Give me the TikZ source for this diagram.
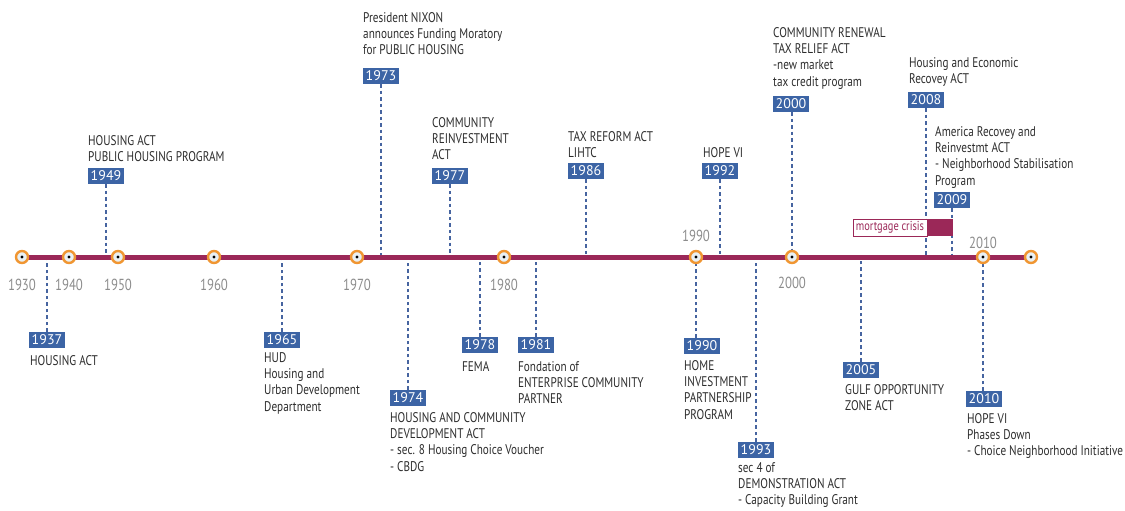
\documentclass[tikz,border=0pt]{standalone}
\usepackage{fontspec}
\setmainfont{PT Sans}
\newfontfamily\cond[FakeStretch=0.8]{PT Sans}
\usetikzlibrary{backgrounds}
\definecolor{boxblue}{RGB}{60,100,165}
\definecolor{dashblue}{RGB}{70,100,160}
\definecolor{maroon}{RGB}{155,40,88}
\definecolor{ringorange}{RGB}{240,150,50}
\definecolor{innerfill}{RGB}{232,240,244}
\definecolor{txtgray}{RGB}{45,45,45}
\definecolor{yeargray}{RGB}{140,140,140}
\begin{document}
\begin{tikzpicture}[x=1pt,y=-1pt,
  evbox/.style={fill=boxblue, text=white, font=\fontsize{14}{14}\selectfont, minimum width=36pt, minimum height=16pt, inner sep=0pt},
  evtext/.style={font=\cond\fontsize{14}{16.3}\selectfont, text=txtgray, align=left, inner sep=0pt, anchor=north west},
  tick/.style={circle, draw=ringorange, line width=2.4pt, fill=innerfill, minimum size=12pt, inner sep=0pt,
    path picture={\fill[black] (path picture bounding box.center) circle (1.7pt);}},
  yrlbl/.style={font=\cond\fontsize{16}{18}\selectfont, text=yeargray, inner sep=0pt},
  evline/.style={draw=dashblue, line width=1.8pt, dash pattern=on 3.5pt off 3pt},
  mbox/.style={draw=maroon, line width=0.6pt, fill=white, text=maroon, font=\cond\fontsize{13}{15}\selectfont, minimum width=74pt, minimum height=17pt, inner sep=0pt},
  mbar/.style={fill=maroon, minimum width=25pt, minimum height=17pt, inner sep=0pt}
]
\useasboundingbox (0,0) rectangle (1125,511);
\coordinate (tl) at (0,257);

% timeline ticks
\node[tick] (c1930) at (22,257) {};
\node[tick] (c1940) at (69,257) {};
\node[tick] (c1950) at (118,257) {};
\node[tick] (c1960) at (214,257) {};
\node[tick] (c1970) at (357,257) {};
\node[tick] (c1980) at (504,257) {};
\node[tick] (c1990) at (696,257) {};
\node[tick] (c2000) at (792,257) {};
\node[tick] (c2010) at (983,257) {};
\node[tick] (cend) at (1031,257) {};

% year labels
\node[yrlbl] (y1930) at (22,285) {1930};
\node[yrlbl] (y1940) at (69,285) {1940};
\node[yrlbl] (y1950) at (118,285) {1950};
\node[yrlbl] (y1960) at (214,285) {1960};
\node[yrlbl] (y1970) at (357,285) {1970};
\node[yrlbl] (y1980) at (504,285) {1980};
\node[yrlbl] (y1990) at (696,236) {1990};
\node[yrlbl] (y2000) at (792,283) {2000};
\node[yrlbl] (y2010) at (983,243) {2010};

% events above
\node[evbox] (b1949) at (106,176) {1949};
\node[evtext] (t1949) at (88,135) {HOUSING ACT\\PUBLIC HOUSING PROGRAM};
\node[evbox] (b1973) at (381,76) {1973};
\node[evtext] (t1973) at (363,12) {President NIXON\\announces Funding Moratory\\for PUBLIC HOUSING};
\node[evbox] (b1977) at (450,176) {1977};
\node[evtext] (t1977) at (432,117) {COMMUNITY\\REINVESTMENT\\ACT};
\node[evbox] (b1986) at (586,171) {1986};
\node[evtext] (t1986) at (568,131) {TAX REFORM ACT\\LIHTC};
\node[evbox] (b1992) at (720,171) {1992};
\node[evtext] (t1992) at (703,147) {HOPE VI};
\node[evbox] (b2000) at (791,104) {2000};
\node[evtext] (t2000) at (773,27) {COMMUNITY RENEWAL\\TAX RELIEF ACT\\-new market\\tax credit program};
\node[evbox] (b2008) at (926,100) {2008};
\node[evtext] (t2008) at (909,57) {Housing and Economic\\Recovey ACT};
\node[evbox] (b2009) at (952,200) {2009};
\node[evtext] (t2009) at (935,126) {America Recovey and\\Reinvestmt ACT\\- Neighborhood Stabilisation\\Program};

% mortgage crisis
\node[mbox] (mc) at (890,227.5) {mortgage crisis};
\node[mbar, anchor=west] (mbar) at (mc.east) {};

% events below
\node[evbox] (b1937) at (47,340) {1937};
\node[evtext] (t1937) at (30,355) {HOUSING ACT};
\node[evbox] (b1965) at (282,340) {1965};
\node[evtext] (t1965) at (264,352) {HUD\\Housing and\\Urban Development\\Department};
\node[evbox] (b1974) at (408,398) {1974};
\node[evtext] (t1974) at (390,412) {HOUSING AND COMMUNITY\\DEVELOPMENT ACT\\- sec. 8 Housing Choice Voucher\\- CBDG};
\node[evbox] (b1978) at (480,345) {1978};
\node[evtext] (t1978) at (462,361) {FEMA};
\node[evbox] (b1981) at (536,345) {1981};
\node[evtext] (t1981) at (518,361) {Fondation of\\ENTERPRISE COMMUNITY\\PARTNER};
\node[evbox] (b1990) at (702,346) {1990};
\node[evtext] (t1990) at (684,360) {HOME\\INVESTMENT\\PARTNERSHIP\\PROGRAM};
\node[evbox] (b1993) at (756,450) {1993};
\node[evtext] (t1993) at (738,462) {sec 4 of\\DEMONSTRATION ACT\\- Capacity Building Grant};
\node[evbox] (b2005) at (861,370) {2005};
\node[evtext] (t2005) at (845,384) {GULF OPPORTUNITY\\ZONE ACT};
\node[evbox] (b2010) at (984,399) {2010};
\node[evtext] (t2010) at (967,413) {HOPE VI\\Phases Down\\- Choice Neighborhood Initiative};

\begin{scope}[on background layer]
  % connectors above
  \draw[evline] (b1949.south) -- (b1949.south |- tl);
  \draw[evline] (b1973.south) -- (b1973.south |- tl);
  \draw[evline] (b1977.south) -- (b1977.south |- tl);
  \draw[evline] (b1986.south) -- (b1986.south |- tl);
  \draw[evline] (b1992.south) -- (b1992.south |- tl);
  \draw[evline] (b2000.south -| c2000) -- (c2000);
  \draw[evline] (b2008.south) -- (b2008.south |- tl);
  \draw[evline] (b2009.south) -- (b2009.south |- tl);
  % connectors below
  \draw[evline] (b1937.north) -- (b1937.north |- tl);
  \draw[evline] (b1965.north) -- (b1965.north |- tl);
  \draw[evline] (b1974.north) -- (b1974.north |- tl);
  \draw[evline] (b1978.north) -- (b1978.north |- tl);
  \draw[evline] (b1981.north) -- (b1981.north |- tl);
  \draw[evline] (b1990.north -| c1990) -- (c1990);
  \draw[evline] (b1993.north) -- (b1993.north |- tl);
  \draw[evline] (b2005.north) -- (b2005.north |- tl);
  \draw[evline] (b2010.north -| c2010) -- (c2010);
  % timeline
  \draw[maroon, line width=5pt] (c1930.center) -- (cend.center);
\end{scope}
\end{tikzpicture}
\end{document}
